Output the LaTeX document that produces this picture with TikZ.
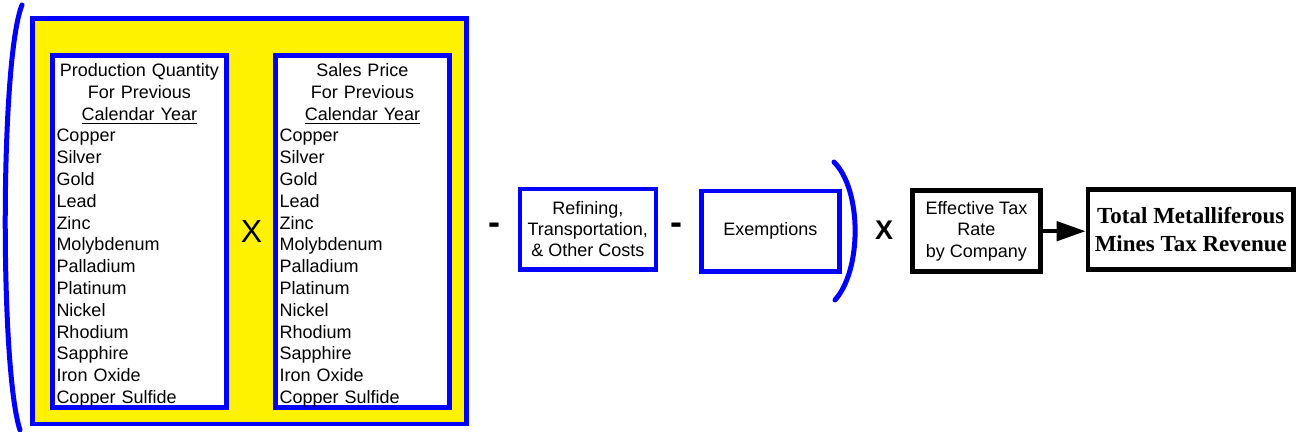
\documentclass[tikz,border=0pt]{standalone}
\usepackage{fontspec}
\setmainfont{Liberation Sans}
\newfontfamily\timesfont{Liberation Serif}
\usetikzlibrary{arrows.meta}

\newcommand{\metallist}{Copper\\ Silver\\ Gold\\ Lead\\ Zinc\\ Molybdenum\\ Palladium\\ Platinum\\ Nickel\\ Rhodium\\ Sapphire\\ Iron Oxide\\ Copper Sulfide}

\tikzset{
  listbox/.style={draw=blue, line width=2.4pt, fill=white, text width=82.9pt, inner xsep=2pt, inner ysep=0pt, align=left, font=\fontsize{9pt}{10.9pt}\selectfont},
  costbox/.style={draw=blue, line width=2.2pt, minimum height=40.3pt, align=center, font=\fontsize{9pt}{10.6pt}\selectfont},
  ratebox/.style={draw=black, line width=2.4pt, minimum height=40.3pt, align=center},
  opsign/.style={font=\fontsize{14pt}{14pt}\selectfont},
  paren/.style={blue, line width=2.5pt, line cap=round}
}

\begin{document}
\begin{tikzpicture}[x=0.5pt, y=-0.5pt]
        \useasboundingbox (0,0) rectangle (1296,432);

        % Revenue frame with the two lists
        \node (frame) [draw=blue, line width=2.4pt, fill=yellow, minimum width=217.2pt, minimum height=202.8pt] at (249.6,221.3) {};
        \node (qty) [listbox] at (139.4,231.2) {\makebox[\hsize]{\rule{0pt}{10.65pt}Production Quantity}\\ \makebox[\hsize]{For Previous}\\ \makebox[\hsize]{\underline{Calendar Year}}\\ \metallist};
        \node (price) [listbox] at (362.5,231.2) {\makebox[\hsize]{\rule{0pt}{10.65pt}Sales Price}\\ \makebox[\hsize]{For Previous}\\ \makebox[\hsize]{\underline{Calendar Year}}\\ \metallist};
        \node (times1) [opsign, font=\fontsize{16pt}{16pt}\selectfont] at (251.5,231) {X};

        % Brackets
        \draw[paren] (22,5) .. controls (0,60) and (0,370) .. (20,430);
        \draw[paren] (834,162) .. controls (862,190) and (862,270) .. (835,300);

        % Deductions
        \node (minus1) [opsign, font=\bfseries\fontsize{18pt}{18pt}\selectfont] at (494.5,229) {-};
        \node (costs) [costbox, minimum width=68pt] at (587.8,229.2) {Refining,\\ Transportation,\\ \& Other Costs};
        \node (minus2) [opsign, font=\bfseries\fontsize{18pt}{18pt}\selectfont] at (676.5,229) {-};
        \node (exempt) [costbox, minimum width=68.9pt] at (770.4,231.1) {Exemptions};

        % Tax rate and result
        \node (times2) [opsign, font=\bfseries\fontsize{13.5pt}{13.5pt}\selectfont] at (884,230) {X};
        \node (rate) [ratebox, minimum width=63.9pt, font=\fontsize{9pt}{10.6pt}\selectfont] at (976.4,231.2) {Effective Tax\\ Rate\\ by Company};
        \node (total) [ratebox, minimum width=100pt, minimum height=39.7pt, font=\timesfont\bfseries\fontsize{11.5pt}{14pt}\selectfont] at (1190.8,229.5) {Total Metalliferous\\ Mines Tax Revenue};
        \draw[-{Triangle[length=14.5pt, width=9.5pt]}, line width=2.2pt] (rate.east) -- (total.west |- rate.east);
    \end{tikzpicture}
\end{document}
